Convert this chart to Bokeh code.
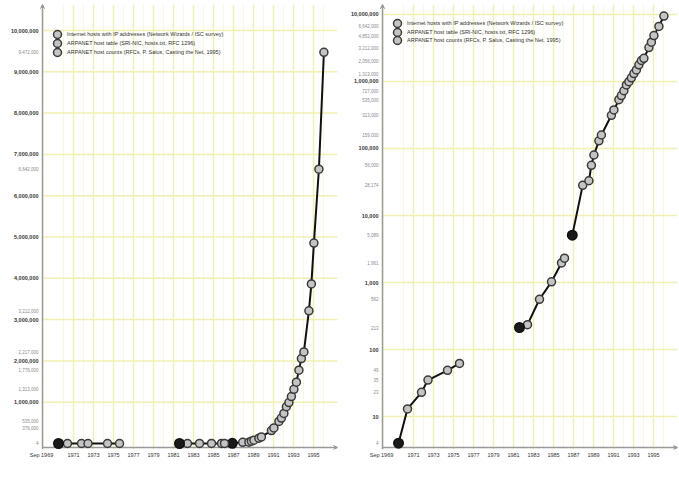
from bokeh.plotting import figure
from bokeh.layouts import row
from bokeh.models import (FixedTicker, Range1d, Arrow, VeeHead, Legend,
                          LegendItem, Span)
from bokeh.core.properties import value
from bokeh.embed import file_html
from bokeh.resources import INLINE

# ---------------- data ----------------
# ARPANET host survey (RFCs)
a_years = [1969.5, 1970.4, 1971.8, 1972.45, 1974.4, 1975.6]
a_hosts = [4, 13, 23, 35, 49, 62]
# ARPANET host table
b_years = [1981.6, 1982.4, 1983.6, 1984.8, 1985.8, 1986.1]
b_hosts = [213, 235, 562, 1024, 1961, 2308]
# Internet hosts (ISC survey)
c_years = [1986.88, 1987.92, 1988.54, 1988.79, 1989.04, 1989.54, 1989.79,
           1990.79, 1991.04, 1991.54, 1991.79, 1992.04, 1992.29, 1992.54,
           1992.79, 1993.04, 1993.29, 1993.54, 1993.79, 1994.04, 1994.54,
           1994.79, 1995.04, 1995.54, 1996.04]
c_hosts = [5089, 28174, 33000, 56000, 80000, 130000, 159000,
           313000, 376000, 535000, 617000, 727000, 890000, 992000,
           1136000, 1313000, 1486000, 1776000, 2056000, 2217000, 3212000,
           3864000, 4852000, 6642000, 9472000]

legend_labels = [
    "Internet hosts with IP addresses (Network Wizards / ISC survey)",
    "ARPANET host table (SRI-NIC, hosts.txt, RFC 1296)",
    "ARPANET host counts (RFCs, P. Salus, Casting the Net, 1995)",
]

x_tick_years = [1971, 1973, 1975, 1977, 1979, 1981, 1983, 1985, 1987,
                1989, 1991, 1993, 1995]
x_minor_years = [1968, 1970, 1972, 1974, 1976, 1978, 1980, 1982, 1984,
                 1986, 1988, 1990, 1992, 1994, 1996]
x_first_label = "Sep 1969"

lin_ticks = [1000000, 2000000, 3000000, 4000000, 5000000, 6000000,
             7000000, 8000000, 9000000, 10000000]
log_ticks = [10, 100, 1000, 10000, 100000, 1000000, 10000000]

lin_marked = [9472000, 6642000, 3212000, 2217000, 1776000, 1313000,
              535000, 376000, 4]
log_marked = [6642000, 4852000, 3212000, 2056000, 1313000, 727000, 535000,
              313000, 159000, 56000, 28174, 5089, 1961, 562, 213, 49, 35,
              23, 4]

FONT = "Liberation Sans"
GRID = "#f0f0b2"
GRID_MINOR = "#f8f8dc"
AXIS = "#9a9a9a"
X0 = 1967.9          # where the y axis sits
XS, XE = 1963.7, 1997.4


def build(log, width, border_right, y_start, y_axis, y_end,
          ticks, marked, legend_locs):
    kw = dict(width=width, height=479, output_backend="svg",
              toolbar_location=None, min_border_left=0,
              min_border_right=border_right,
              min_border_top=4, min_border_bottom=30,
              x_range=Range1d(XS, XE), y_range=Range1d(y_start, y_end),
              background_fill_color="white", border_fill_color="white")
    if log:
        kw["y_axis_type"] = "log"
    p = figure(**kw)
    p.outline_line_color = None
    p.yaxis.visible = False
    p.ygrid.visible = False

    # vertical grid (years)
    p.xgrid.ticker = FixedTicker(ticks=x_tick_years, minor_ticks=x_minor_years)
    p.xgrid.grid_line_color = GRID
    p.xgrid.minor_grid_line_color = GRID_MINOR
    p.xgrid.grid_line_width = 1.5

    # x axis labels
    p.xaxis.ticker = FixedTicker(ticks=[X0 - 0.1] + x_tick_years)
    p.xaxis.major_label_overrides = {X0 - 0.1: x_first_label}
    p.xaxis.axis_line_color = None
    p.xaxis.major_tick_line_color = None
    p.xaxis.major_tick_out = 0
    p.xaxis.minor_tick_line_color = None
    p.xaxis.minor_tick_out = 0
    p.xaxis.major_label_text_font = FONT
    p.xaxis.major_label_text_font_size = "5.5px"
    p.xaxis.major_label_text_color = "#333333"
    p.xaxis.major_label_standoff = 2

    # horizontal grid (value ticks), starting at the y axis
    p.segment(x0=[X0] * len(ticks), x1=[XE] * len(ticks), y0=ticks,
              y1=ticks, line_color=GRID, line_width=1.5)

    # axes lines
    p.add_layout(Span(location=X0, dimension="height", line_color=AXIS,
                      line_width=1.5))
    p.segment(x0=[X0], x1=[XE], y0=[y_axis], y1=[y_axis],
              line_color=AXIS, line_width=1.5)
    y_arrow0 = y_end * 0.8 if log else y_end - 250000
    p.add_layout(Arrow(end=VeeHead(size=4, line_color=AXIS, fill_color=AXIS),
                       x_start=X0, y_start=y_arrow0, x_end=X0,
                       y_end=y_end, line_color=AXIS, line_width=1))
    p.add_layout(Arrow(end=VeeHead(size=4, line_color=AXIS, fill_color=AXIS),
                       x_start=XE - 0.6, y_start=y_axis, x_end=XE,
                       y_end=y_axis, line_color=AXIS, line_width=1))

    # y tick labels (bold) and marked data values (grey)
    p.text(x=[X0] * len(ticks), y=ticks, text=[f"{t:,}" for t in ticks],
           x_offset=-4, text_align="right", text_baseline="middle",
           text_font=value(FONT), text_font_size="5.5px",
           text_font_style="bold", text_color="#333333")
    p.text(x=[X0] * len(marked), y=marked, text=[f"{v:,}" for v in marked],
           x_offset=-4, text_align="right", text_baseline="middle",
           text_font=value(FONT), text_font_size="4.5px",
           text_color="#8a8a8a")

    renderers = []
    for xs, ys in ((c_years, c_hosts), (b_years, b_hosts), (a_years, a_hosts)):
        p.line(xs, ys, line_color="#111111", line_width=2)
        r = p.scatter(xs, ys, size=8, fill_color="#c4c4c4",
                      line_color="#3a3a3a", line_width=1.5)
        p.scatter(xs[:1], ys[:1], size=9.5, fill_color="#1a1a1a",
                  line_color="#111111", line_width=1.5)
        renderers.append(r)

    for lab, r, loc in zip(legend_labels, renderers, legend_locs):
        legend = Legend(items=[LegendItem(label=lab, renderers=[r])],
                        location=loc, orientation="vertical",
                        background_fill_alpha=0, border_line_color=None,
                        label_text_font=FONT, label_text_font_size="5.5px",
                        label_text_color="#333333", glyph_width=20,
                        glyph_height=20, label_height=9, spacing=0,
                        padding=0, margin=0, label_standoff=0)
        p.add_layout(legend, "center")
    return p


left = build(False, 340, 3, -145300, -96900, 10630000,
             lin_ticks, lin_marked, [(47, 405), (47, 396), (47, 387)])
right = build(True, 339, 2, 3.22, 3.44, 14090000,
              log_ticks, log_marked, [(47, 416), (47, 407), (47, 399)])

layout = row(left, right, spacing=0)
open("out.html", "w").write(file_html(layout, INLINE))
